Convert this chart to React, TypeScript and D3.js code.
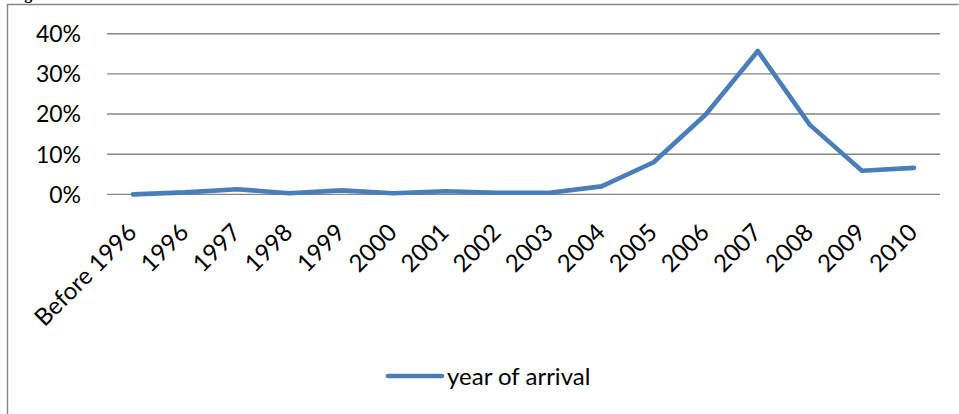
import React from "react";
import * as d3 from "d3";

const categories: string[] = [
  "Before 1996", "1996", "1997", "1998", "1999", "2000", "2001", "2002",
  "2003", "2004", "2005", "2006", "2007", "2008", "2009", "2010",
];
const values: number[] = [
  0.0, 0.5, 1.3, 0.3, 1.0, 0.3, 0.8, 0.4, 0.4, 2.0, 8.0, 19.9, 35.7, 17.3, 5.9, 6.6,
];
const yTicks: number[] = [0, 10, 20, 30, 40];
const seriesName = "year of arrival";

const W = 959;
const H = 414;
const FONT = "Lato, 'Open Sans', sans-serif";
const BLUE = "#4a7ebb";
const GRID = "#868686";

export default function App() {
  const x = d3.scaleBand<string>().domain(categories).range([107, 940]);
  const y = d3.scaleLinear().domain([0, 40]).range([194.4, 33.7]);
  const line = d3
    .line<number>()
    .x((_, i) => (x(categories[i]) as number) + x.bandwidth() / 2)
    .y((d) => y(d));

  return (
    <svg
      width={W}
      height={H}
      style={{ position: "absolute", left: 0, top: 0, background: "#fff" }}
    >
      <text x={10} y={-1} fontFamily="'Liberation Serif', serif" fontWeight="bold" fontSize={16} fill="#000">
        Figure
      </text>
      <path d={`M7.5,${H + 5}V4.5H958.5`} fill="none" stroke={GRID} strokeWidth={1.4} />
      {yTicks.map((t) => (
        <g key={t}>
          <line x1={107} x2={940} y1={y(t)} y2={y(t)} stroke={GRID} strokeWidth={1.4} />
          <text
            x={81}
            y={y(t)}
            dy="0.36em"
            textAnchor="end"
            fontFamily={FONT}
            fontSize={23}
            fill="#000"
          >
            {t}%
          </text>
        </g>
      ))}
      <path
        d={line(values) || ""}
        fill="none"
        stroke={BLUE}
        strokeWidth={4.6}
        strokeLinejoin="round"
        strokeLinecap="round"
      />
      {categories.map((c) => {
        const cx = (x(c) as number) + x.bandwidth() / 2 + 5;
        const cy = 234;
        return (
          <text
            key={c}
            x={cx}
            y={cy}
            transform={`rotate(-45 ${cx} ${cy})`}
            textAnchor="end"
            fontFamily={FONT}
            fontSize={24}
            fill="#000"
          >
            {c}
          </text>
        );
      })}
      <line x1={388} x2={442} y1={376} y2={376} stroke={BLUE} strokeWidth={4.6} strokeLinecap="round" />
      <text x={447} y={376} dy="0.36em" fontFamily={FONT} fontSize={24} fill="#000">
        {seriesName}
      </text>
    </svg>
  );
}
